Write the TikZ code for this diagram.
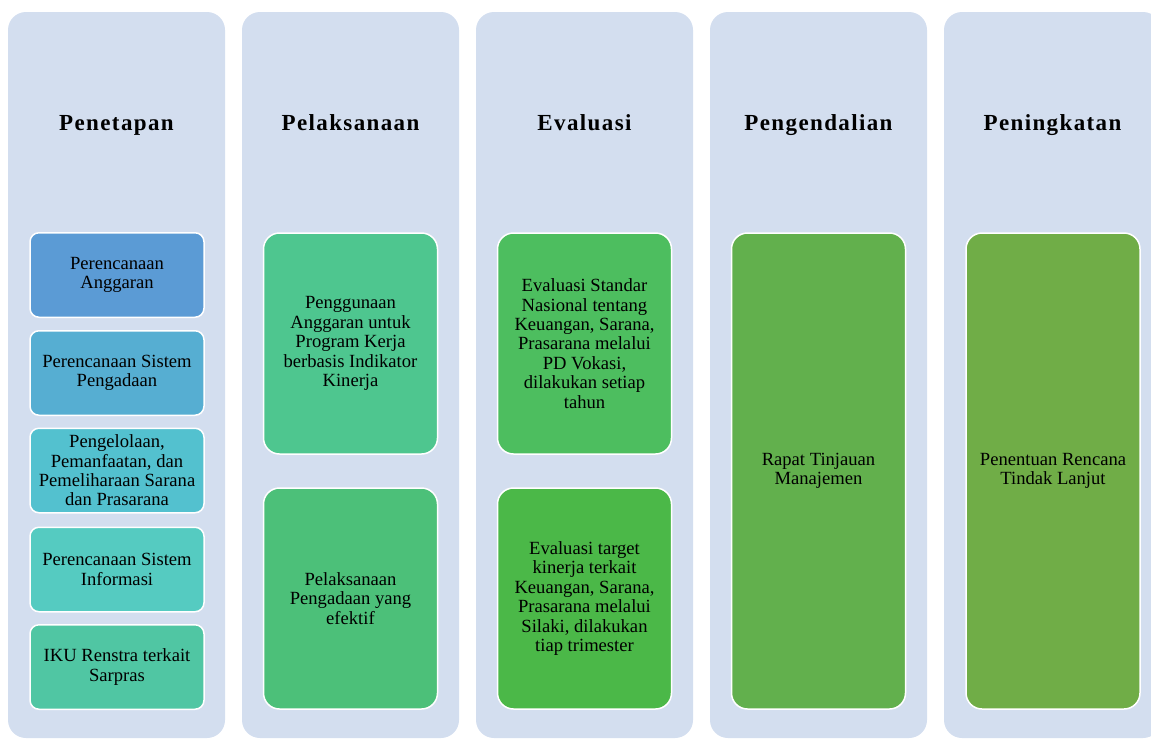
\documentclass[tikz,border=0pt]{standalone}
\usepackage{fontspec}
\setmainfont{Liberation Serif}
\definecolor{colbg}{RGB}{211,222,239}
\definecolor{cA}{RGB}{91,155,213}
\definecolor{cB}{RGB}{86,174,210}
\definecolor{cC}{RGB}{83,193,207}
\definecolor{cD}{RGB}{85,203,193}
\definecolor{cE}{RGB}{80,198,163}
\definecolor{cF}{RGB}{78,198,143}
\definecolor{cG}{RGB}{76,192,121}
\definecolor{cH}{RGB}{77,190,95}
\definecolor{cI}{RGB}{75,184,72}
\definecolor{cJ}{RGB}{98,176,77}
\definecolor{cK}{RGB}{112,173,71}
\begin{document}
\begin{tikzpicture}[x=1pt,y=-1pt,
  column/.style={fill=colbg, draw=none, rounded corners=18pt,
    minimum width=217pt, minimum height=726pt, inner sep=0pt},
  head/.style={anchor=base, inner sep=0pt,
    font=\addfontfeature{LetterSpace=6}\fontsize{23}{26}\selectfont\bfseries},
  item/.style={draw=white, line width=1.5pt, rounded corners=9pt,
    align=center, inner sep=0pt, minimum width=174pt, minimum height=84.5pt,
    font=\fontsize{18.6}{19.4}\selectfont},
  halfbox/.style={item, rounded corners=16pt, minimum height=221pt},
  fullbox/.style={item, rounded corners=16pt, minimum height=476pt}]
\useasboundingbox (0,0) rectangle (1151,740);
\begin{scope}
\clip (0,0) rectangle (1151,740);
% background columns
\node[column] (col1) at (116.5,375) {};
\node[column] (col2) at (350.5,375) {};
\node[column] (col3) at (584.5,375) {};
\node[column] (col4) at (818.5,375) {};
\node[column] (col5) at (1052.5,375) {};

% column headings
\node[head] (h1) at (116.5,130) {Penetapan};
\node[head] (h2) at (350.5,130) {Pelaksanaan};
\node[head] (h3) at (584.5,130) {Evaluasi};
\node[head] (h4) at (818.5,130) {Pengendalian};
\node[head] (h5) at (1052.5,130) {Peningkatan};

% Penetapan
\node[item, fill=cA] (p1) at (117,275) {Perencanaan\\Anggaran};
\node[item, fill=cB] (p2) at (117,373) {Perencanaan Sistem\\Pengadaan};
\node[item, fill=cC] (p3) at (117,470.5) {Pengelolaan,\\Pemanfaatan, dan\\Pemeliharaan Sarana\\dan Prasarana};
\node[item, fill=cD] (p4) at (117,569.5) {Perencanaan Sistem\\Informasi};
\node[item, fill=cE] (p5) at (117,667) {IKU Renstra terkait\\Sarpras};

% Pelaksanaan
\node[halfbox, fill=cF] (l1) at (350.5,343.5) {Penggunaan\\Anggaran untuk\\Program Kerja\\berbasis Indikator\\Kinerja};
\node[halfbox, fill=cG] (l2) at (350.5,598.5) {Pelaksanaan\\Pengadaan yang\\efektif};

% Evaluasi
\node[halfbox, fill=cH] (e1) at (584.5,343.5) {Evaluasi Standar\\Nasional tentang\\Keuangan, Sarana,\\Prasarana melalui\\PD Vokasi,\\dilakukan setiap\\tahun};
\node[halfbox, fill=cI] (e2) at (584.5,598.5) {Evaluasi target\\kinerja terkait\\Keuangan, Sarana,\\Prasarana melalui\\Silaki, dilakukan\\tiap trimester};

% Pengendalian
\node[fullbox, fill=cJ] (g1) at (818.5,471) {Rapat Tinjauan\\Manajemen};

% Peningkatan
\node[fullbox, fill=cK] (k1) at (1053,471) {Penentuan Rencana\\Tindak Lanjut};
\end{scope}
\end{tikzpicture}
\end{document}
